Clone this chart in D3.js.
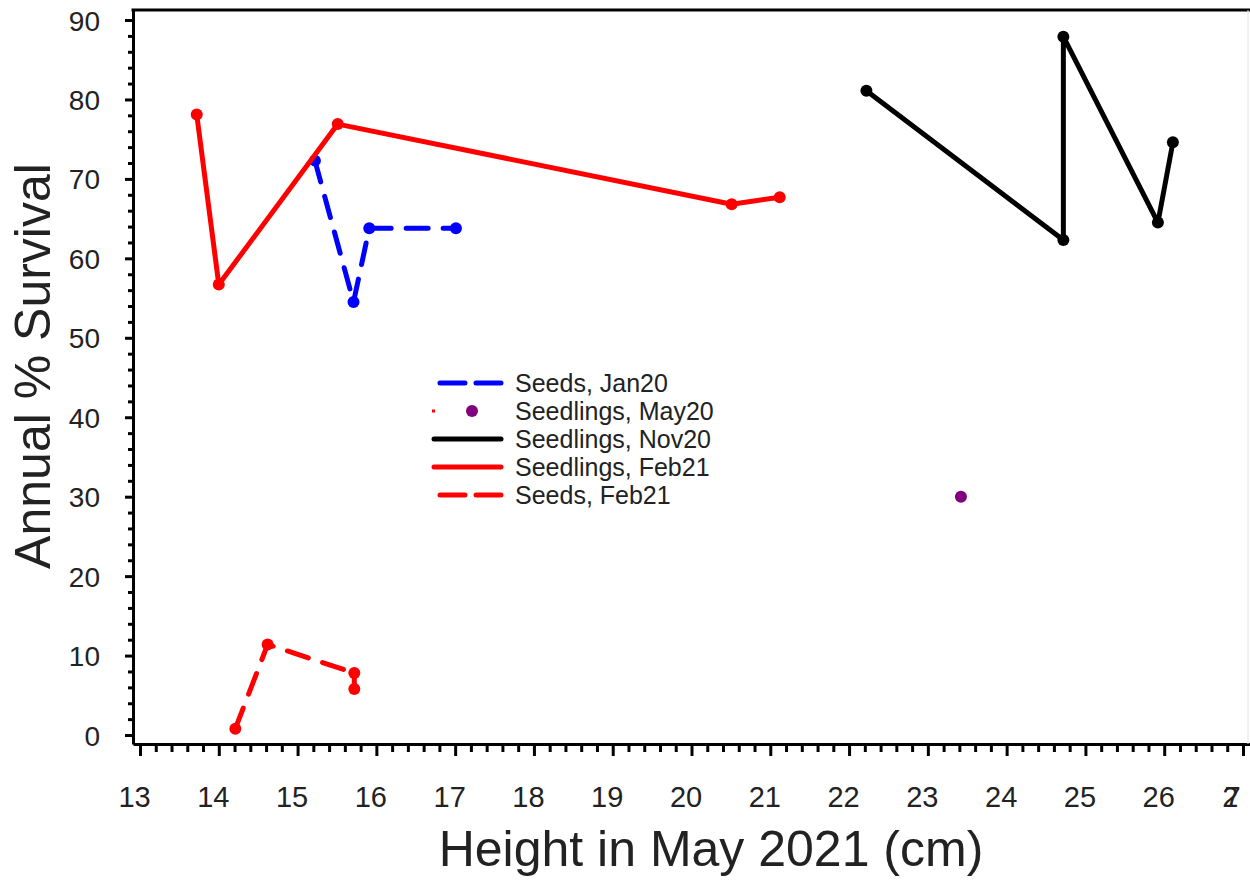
<!DOCTYPE html>
<html>
<head>
<meta charset="utf-8">
<script src="https://cdn.jsdelivr.net/npm/d3@7"></script>
<style>
    body { margin: 0; background: #fff; }
    svg { display: block; font-family: "Liberation Sans", Arial, sans-serif; }
    .tick text { fill: #222; }
    .label { fill: #222; }
</style>
</head>
<body>
<svg width="1250" height="880"></svg>
<script>
"use strict";

// data
const seedsJan20X = [15.22, 15.71, 15.91, 17.01];
const seedsJan20Y = [72.3, 54.5, 63.8, 63.8];

const seedlingsMay20X = [23.42];
const seedlingsMay20Y = [30];

const seedlingsNov20X = [22.22, 24.72, 24.72, 25.92, 26.11];
const seedlingsNov20Y = [81.1, 62.3, 87.9, 64.5, 74.6];

const seedlingsFeb21X = [13.72, 14.0, 15.51, 20.51, 21.12];
const seedlingsFeb21Y = [78.1, 56.7, 76.9, 66.8, 67.7];

const seedsFeb21X = [14.21, 14.62, 15.72, 15.72];
const seedsFeb21Y = [0.8, 11.4, 7.8, 5.8];

const seriesNames = ['Seeds, Jan20', 'Seedlings, May20', 'Seedlings, Nov20', 'Seedlings, Feb21', 'Seeds, Feb21'];
const xTickValues = [13, 14, 15, 16, 17, 18, 19, 20, 21, 22, 23, 24, 25, 26, 27];
const yTickValues = [0, 10, 20, 30, 40, 50, 60, 70, 80, 90];

const zip = (xs, ys) => xs.map((x, i) => ({ x: x, y: ys[i] }));

const series = [
    { name: seriesNames[0], pts: zip(seedsJan20X, seedsJan20Y), color: '#0000ff', dash: '22,15', line: true, legDash: '25,11' },
    { name: seriesNames[1], pts: zip(seedlingsMay20X, seedlingsMay20Y), color: '#800080', dash: null, line: false },
    { name: seriesNames[2], pts: zip(seedlingsNov20X, seedlingsNov20Y), color: '#000000', dash: null, line: true },
    { name: seriesNames[3], pts: zip(seedlingsFeb21X, seedlingsFeb21Y), color: '#ff0000', dash: null, line: true },
    { name: seriesNames[4], pts: zip(seedsFeb21X, seedsFeb21Y), color: '#ff0000', dash: '22,15', line: true, legDash: '25,11' }
];

const svg = d3.select('svg');

const plotLeft = 133, plotRight = 1250, plotTop = 10, plotBottom = 744;

const xScale = d3.scaleLinear()
    .domain([12.911, 27.089])
    .range([plotLeft, plotRight]);

const yScale = d3.scaleLinear()
    .domain([-1.13, 91.26])
    .range([plotBottom, plotTop]);

// minor ticks
const xMinor = d3.range(130, 271, 2).map(v => v / 10).filter(v => xTickValues.indexOf(v) < 0);
const yMinor = d3.range(0, 91, 2).filter(v => v % 10 !== 0);

svg.append('g')
    .attr('transform', `translate(0, ${plotBottom})`)
    .call(d3.axisBottom(xScale).tickValues(xMinor).tickSize(8).tickFormat(''))
    .call(g => g.select('.domain').remove())
    .selectAll('line').attr('stroke', '#000').attr('stroke-width', 3);

svg.append('g')
    .attr('transform', `translate(${plotLeft}, 0)`)
    .call(d3.axisLeft(yScale).tickValues(yMinor).tickSize(5).tickFormat(''))
    .call(g => g.select('.domain').remove())
    .selectAll('line').attr('stroke', '#000').attr('stroke-width', 3);

const xAxis = svg.append('g')
    .attr('transform', `translate(0, ${plotBottom})`)
    .call(d3.axisBottom(xScale).tickValues(xTickValues).tickSize(12).tickSizeOuter(0));

xAxis.select('.domain').attr('stroke', '#000').attr('stroke-width', 3);
xAxis.selectAll('line').attr('stroke', '#000').attr('stroke-width', 3);
xAxis.selectAll('text')
    .attr('y', 63)
    .attr('dy', 0)
    .attr('dx', d => d === 27 ? -19 : -6)
    .style('font-size', '29px')
    .style('letter-spacing', d => d === 27 ? '-14px' : null)
    .attr('fill', '#222');

const yAxis = svg.append('g')
    .attr('transform', `translate(${plotLeft}, 0)`)
    .call(d3.axisLeft(yScale).tickValues(yTickValues).tickSize(8).tickSizeOuter(0));

yAxis.select('.domain').attr('stroke', '#000').attr('stroke-width', 3);
yAxis.selectAll('line').attr('stroke', '#000').attr('stroke-width', 3);
yAxis.selectAll('text')
    .attr('x', -33)
    .attr('dy', '0.36em')
    .style('font-size', '28px')
    .attr('fill', '#222');

// frame top and faint right edge
svg.append('line')
    .attr('x1', plotLeft - 1.5).attr('x2', plotRight)
    .attr('y1', plotTop).attr('y2', plotTop)
    .attr('stroke', '#000').attr('stroke-width', 3);

svg.append('line')
    .attr('x1', 1248).attr('x2', 1248)
    .attr('y1', plotTop).attr('y2', plotBottom)
    .attr('stroke', '#e4e4e4').attr('stroke-width', 1);

const line = d3.line()
    .x(d => xScale(d.x))
    .y(d => yScale(d.y));

const groups = svg.selectAll('.series')
    .data(series)
    .enter()
    .append('g')
    .attr('class', 'series');

groups.filter(s => s.line)
    .append('path')
    .attr('d', s => line(s.pts))
    .attr('fill', 'none')
    .attr('stroke', s => s.color)
    .attr('stroke-width', 5)
    .attr('stroke-linejoin', 'round')
    .attr('stroke-linecap', 'round')
    .attr('stroke-dasharray', s => s.dash);

groups.selectAll('circle')
    .data(s => s.pts.map(p => ({ x: p.x, y: p.y, color: s.color })))
    .enter()
    .append('circle')
    .attr('cx', d => xScale(d.x))
    .attr('cy', d => yScale(d.y))
    .attr('r', 6)
    .attr('fill', d => d.color);

// legend
const legend = svg.append('g');
const legY = i => 383 + i * 28;

series.forEach((s, i) => {
    if (s.line) {
        legend.append('line')
            .attr('x1', s.dash ? 440 : 434).attr('x2', 501)
            .attr('y1', legY(i)).attr('y2', legY(i))
            .attr('stroke', s.color)
            .attr('stroke-width', 5)
            .attr('stroke-linecap', 'round')
            .attr('stroke-dasharray', s.legDash || null);
    } else {
        legend.append('rect')
            .attr('x', 432).attr('y', legY(i) - 1.5)
            .attr('width', 3).attr('height', 3)
            .attr('fill', '#ff0000');
        legend.append('circle')
            .attr('cx', 472).attr('cy', legY(i))
            .attr('r', 6)
            .attr('fill', s.color);
    }
    legend.append('text')
        .attr('class', 'label')
        .attr('x', 515)
        .attr('y', legY(i))
        .attr('dy', '0.36em')
        .style('font-size', '25px')
        .text(s.name);
});

// axis titles
svg.append('text')
    .attr('class', 'label')
    .attr('transform', 'translate(50, 366) rotate(-90)')
    .attr('text-anchor', 'middle')
    .style('font-size', '50px')
    .text('Annual % Survival');

svg.append('text')
    .attr('class', 'label')
    .attr('x', 711)
    .attr('y', 866)
    .attr('text-anchor', 'middle')
    .style('font-size', '50px')
    .text('Height in May 2021 (cm)');
</script>
</body>
</html>
